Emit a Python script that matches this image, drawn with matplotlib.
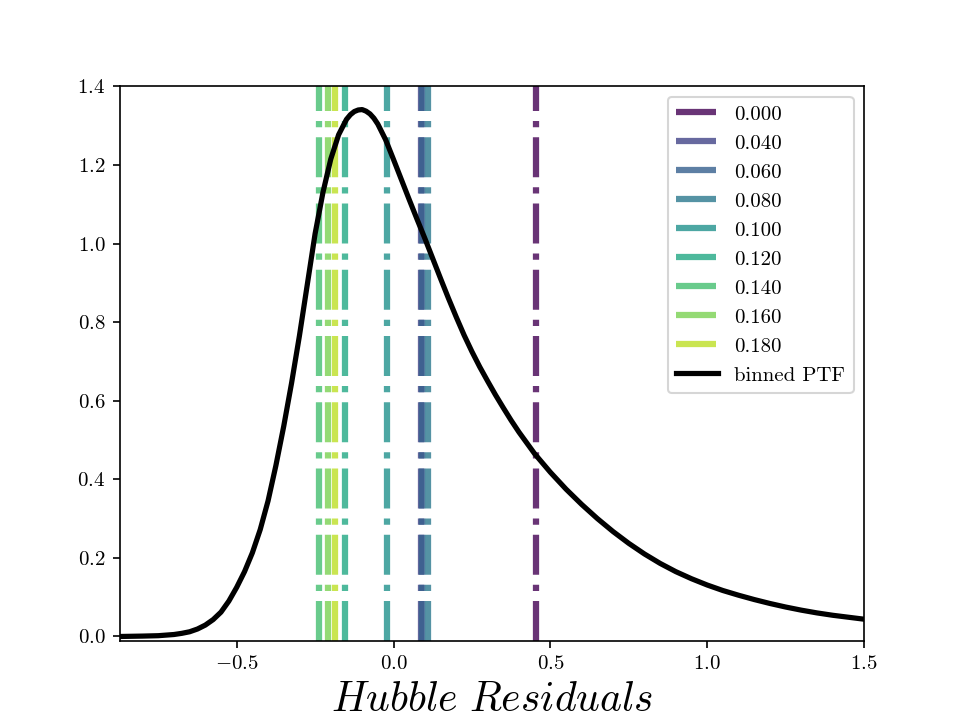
import numpy as np
import matplotlib
matplotlib.use("Agg")
import matplotlib.pyplot as plt

# Computer Modern look without LaTeX
plt.rcParams['font.family'] = 'serif'
plt.rcParams['font.serif'] = ['cmr10']
plt.rcParams['mathtext.fontset'] = 'cm'
plt.rcParams['axes.formatter.use_mathtext'] = True

# mean residual for each bin width
sigma_labels = [0.000, 0.040, 0.060, 0.080, 0.100, 0.120, 0.140, 0.160, 0.180]
sigma_means = [0.455, 0.088, 0.092, 0.110, -0.021, -0.154, -0.237, -0.209, -0.187]

# binned PTF curve
ptf_x = [-0.872, -0.800, -0.750, -0.700, -0.675, -0.650, -0.625, -0.600, -0.575,
         -0.550, -0.525, -0.500, -0.475, -0.450, -0.425, -0.400, -0.375, -0.350,
         -0.325, -0.300, -0.275, -0.250, -0.225, -0.200, -0.175, -0.150, -0.1375,
         -0.125, -0.1125, -0.100, -0.0875, -0.075, -0.0625, -0.050, -0.025,
         0.000, 0.025, 0.050, 0.075, 0.100,
         0.125, 0.150, 0.175, 0.200, 0.225, 0.250, 0.275, 0.300, 0.325, 0.350,
         0.375, 0.400, 0.450, 0.500, 0.550, 0.600, 0.650, 0.700, 0.750, 0.800,
         0.850, 0.900, 0.950, 1.000, 1.050, 1.100, 1.150, 1.200, 1.250, 1.300,
         1.350, 1.400, 1.450, 1.500]
ptf_y = [0.000, 0.001, 0.002, 0.005, 0.008, 0.012, 0.019, 0.029, 0.043,
         0.062, 0.090, 0.125, 0.165, 0.213, 0.272, 0.345, 0.435, 0.535,
         0.645, 0.765, 0.895, 1.025, 1.130, 1.215, 1.277, 1.316, 1.328,
         1.336, 1.340, 1.341, 1.337, 1.330, 1.319, 1.304, 1.264,
         1.214, 1.163, 1.112, 1.062, 1.013,
         0.962, 0.911, 0.861, 0.813, 0.767, 0.725, 0.686, 0.650, 0.615, 0.582,
         0.550, 0.520, 0.465, 0.418, 0.375, 0.336, 0.300, 0.267, 0.237, 0.210,
         0.186, 0.165, 0.147, 0.131, 0.117, 0.105, 0.094, 0.084, 0.075, 0.067,
         0.060, 0.054, 0.049, 0.044]

fig, ax = plt.subplots(figsize=(6.4, 4.8), dpi=150)

for lab, xm in zip(sigma_labels, sigma_means):
    ax.axvline(xm, ls='-.', lw=3, alpha=0.8,
               color=plt.cm.viridis(lab / 0.2), label='%.3f' % lab)

ax.plot(ptf_x, ptf_y, color='k', lw=2.5, label='binned PTF')

ax.set_xlim(-0.872, 1.5)
ax.set_ylim(-0.011, 1.4)
ax.set_xlabel(r'$Hubble\ Residuals$', fontsize=20)
ax.legend(loc='upper right')

plt.savefig('out.png', dpi=150)
